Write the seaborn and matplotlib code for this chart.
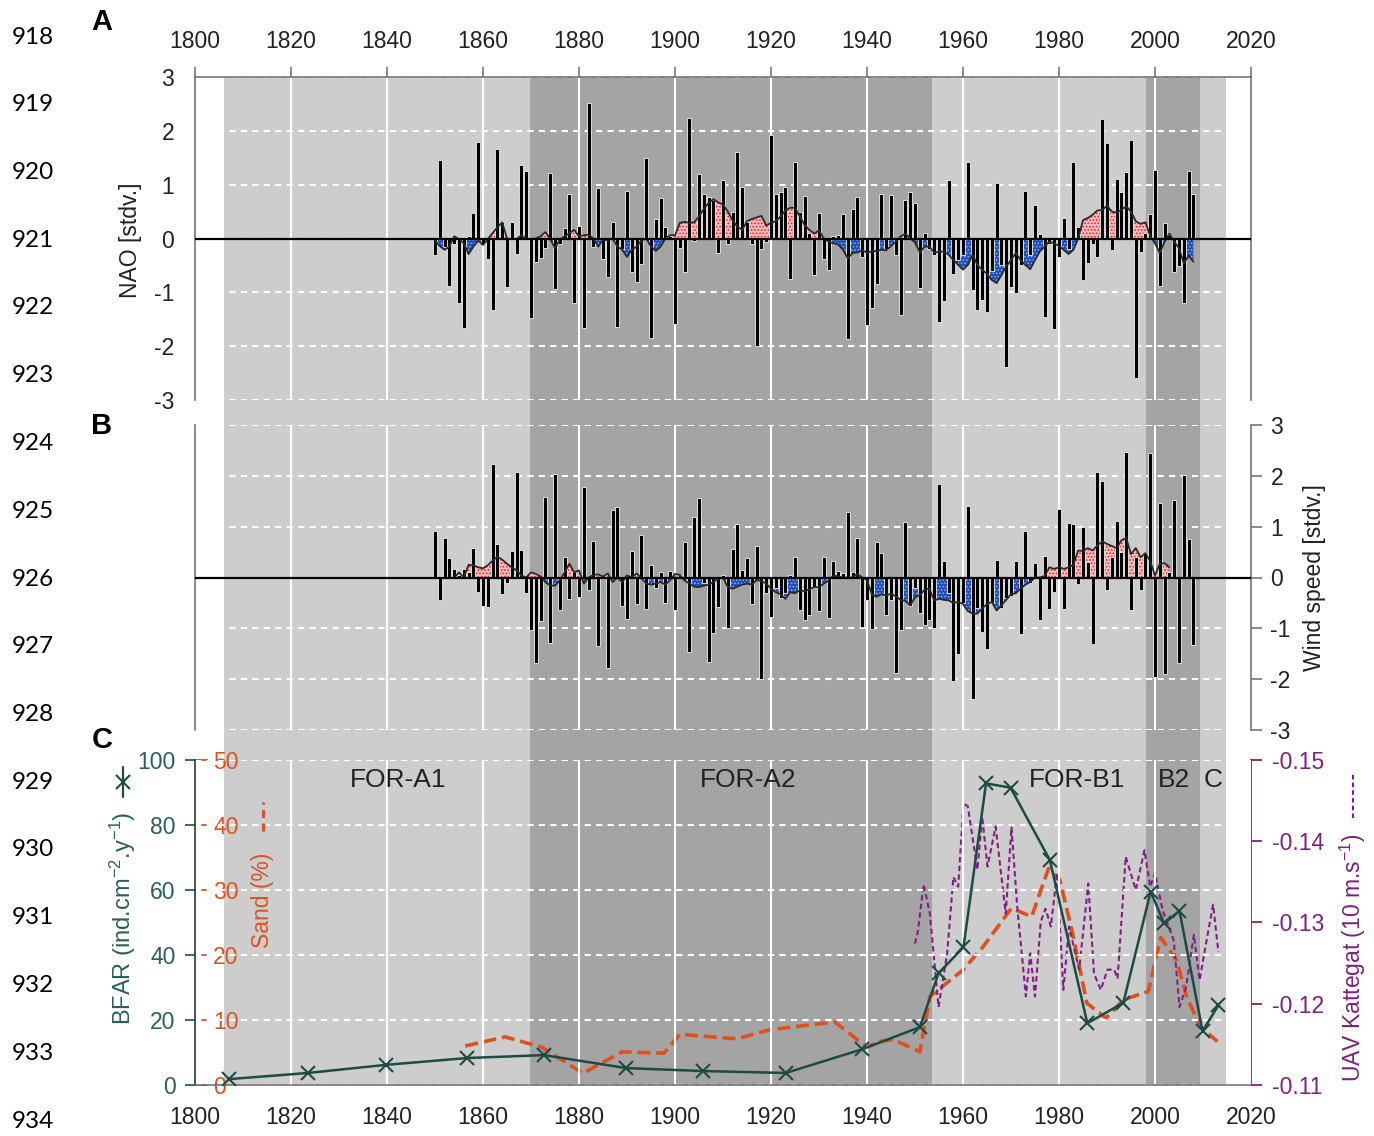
import matplotlib
matplotlib.use("Agg")
import matplotlib.pyplot as plt
from matplotlib.lines import Line2D
import numpy as np
import seaborn as sns

# ---------------- data ----------------
years = list(range(1850, 2009))
nao_values = [
    -0.30, 1.45, -0.15, -0.89, -0.10, -1.19, -1.66, 0.05, 0.48, 1.80,
    -0.10, -0.38, -1.33, 1.66, 0.30, -0.90, 0.30, -0.29, 1.37, 1.25,
    -1.47, -0.43, -0.37, -0.18, 1.22, -0.93, -0.10, 0.19, 0.83, -1.19,
    0.24, -1.66, 2.51, -0.15, 0.93, -0.38, -0.72, 0.30, -1.64, -0.20,
    0.89, -0.62, -0.81, -0.47, 1.50, -1.85, 0.37, 0.75, 0.22, 0.05,
    -1.59, -0.18, -0.63, 2.23, -0.04, 1.19, 0.83, 0.77, 0.72, -0.27,
    1.08, -0.10, 0.50, 1.60, 0.95, 0.30, -0.10, -1.99, -0.20, -0.06,
    1.93, 0.83, 0.86, 0.95, -0.76, 1.43, 0.50, 0.79, 0.10, -0.68,
    0.48, -0.38, -0.58, 0.05, 0.07, 0.46, -1.86, 0.55, 0.78, -0.35,
    -1.60, -1.30, -0.84, 0.83, -0.20, 0.80, -0.30, -1.43, 0.71, 0.87,
    0.66, -0.92, 0.11, -0.20, -0.30, -1.56, -1.17, 1.09, -0.66, -0.40,
    -0.30, 1.43, -0.96, -1.33, -1.14, -1.36, -0.60, 1.04, -0.50, -2.38,
    -0.91, -1.02, -0.50, 0.89, -0.30, 0.63, 0.09, -1.45, -0.10, -1.69,
    -0.35, 0.39, -0.20, 1.42, 0.22, -0.77, -0.45, -0.10, -0.34, 2.22,
    1.78, -0.22, 1.11, 0.87, 1.23, 1.83, -2.60, -0.25, 0.10, 0.46,
    1.28, -0.89, 0.29, 0.06, -0.62, -0.52, -1.19, 1.26, 0.83,
]
nao_smooth = [
    -0.04, -0.14, -0.21, -0.15, 0.04, -0.01, -0.09, -0.29, -0.15, -0.04,
    -0.12, -0.01, 0.10, 0.21, 0.30, 0.00, -0.01, -0.01, 0.06, 0.00,
    -0.01, 0.00, 0.04, 0.12, -0.01, -0.18, -0.02, 0.04, 0.10, 0.16,
    0.04, 0.06, 0.07, 0.00, -0.15, -0.02, -0.03, 0.00, -0.15, -0.21,
    -0.34, -0.21, -0.15, -0.04, 0.00, -0.15, -0.23, -0.15, 0.00, 0.06,
    0.06, 0.29, 0.31, 0.29, 0.30, 0.41, 0.55, 0.66, 0.73, 0.67,
    0.63, 0.50, 0.34, 0.22, 0.16, 0.32, 0.36, 0.39, 0.42, 0.24,
    0.29, 0.32, 0.41, 0.52, 0.57, 0.57, 0.41, 0.25, 0.16, 0.09,
    0.15, 0.00, -0.06, -0.09, -0.11, -0.21, -0.37, -0.27, -0.26, -0.22,
    -0.26, -0.24, -0.23, -0.21, -0.22, -0.14, -0.06, 0.04, 0.09, 0.00,
    -0.07, -0.26, -0.15, -0.15, -0.26, -0.25, -0.24, -0.30, -0.40, -0.49,
    -0.58, -0.49, -0.30, -0.49, -0.58, -0.66, -0.77, -0.83, -0.68, -0.52,
    -0.40, -0.27, -0.40, -0.49, -0.57, -0.40, -0.24, -0.15, -0.06, -0.09,
    -0.14, -0.21, -0.29, -0.21, 0.00, 0.34, 0.38, 0.44, 0.52, 0.53,
    0.61, 0.50, 0.48, 0.53, 0.60, 0.50, 0.32, 0.27, 0.30, 0.05,
    -0.09, -0.27, -0.06, 0.09, -0.06, -0.18, -0.46, -0.32, -0.43,
]
wind_values = [
    0.92, -0.44, 0.78, 0.39, 0.16, 0.05, 0.17, 0.10, 0.58, -0.29,
    -0.56, -0.58, 2.23, 0.66, -0.33, -0.10, 0.53, 2.07, 0.55, -0.31,
    -1.03, -1.68, -0.86, 1.59, -1.28, 2.03, -0.63, 0.40, -0.42, 0.10,
    -0.39, 1.79, -0.25, 0.71, -1.34, 0.05, -1.78, 1.33, 1.39, -0.56,
    -0.82, 0.52, -0.53, 0.84, -0.61, 0.25, -0.20, 0.10, -0.50, 0.12,
    -0.63, 0.05, 0.70, -1.47, 1.20, 1.56, -0.10, -1.67, -1.09, -0.59,
    0.05, -0.99, 0.56, 1.05, 0.15, 0.39, -0.52, 0.61, -2.00, -0.30,
    -0.78, -0.20, -0.40, -0.30, 0.05, 0.40, -0.63, -0.83, -0.73, -0.20,
    -0.65, 0.41, -0.79, 0.32, 0.12, 0.08, 1.28, 0.10, 0.77, -0.97,
    -0.44, -1.02, 0.69, 0.48, -0.73, -0.45, -1.88, -1.04, 1.10, -0.56,
    -0.20, -0.70, -0.94, -0.84, -1.00, 1.84, 0.32, -0.30, -2.03, -1.51,
    -0.50, 1.41, -2.39, -0.60, -1.08, -1.40, -0.50, 0.35, -0.60, -0.40,
    -0.37, 0.33, -1.12, 0.91, -0.10, 0.29, -0.83, 0.43, -0.62, -0.29,
    1.35, -0.62, 1.07, 1.05, -0.12, 0.99, 0.30, -1.30, 2.08, 1.89,
    -0.24, 0.40, 1.12, 0.50, 2.46, -0.63, 0.40, -0.24, 0.48, 2.44,
    -1.95, 1.46, -1.89, 0.10, 1.52, -1.69, 2.02, 0.76, -1.33,
]
wind_smooth_years = list(range(1854, 2004))
wind_smooth = [
    0.00, 0.10, 0.00, 0.25, 0.24, 0.20,
    0.18, 0.24, 0.33, 0.41, 0.35, 0.27, 0.20, 0.14, 0.04, 0.00,
    0.10, 0.07, 0.02, -0.09, -0.16, -0.16, -0.06, 0.10, 0.27, 0.10,
    0.14, -0.12, 0.00, 0.05, 0.06, 0.02, 0.08, -0.09, 0.00, -0.09,
    0.04, 0.00, 0.08, -0.01, -0.12, -0.14, -0.12, -0.09, -0.14, -0.05,
    0.07, 0.05, -0.06, -0.12, -0.18, -0.19, -0.16, -0.14, -0.09, -0.03,
    0.00, -0.19, -0.22, -0.18, -0.14, -0.12, -0.14, -0.05, -0.07, -0.12,
    -0.22, -0.29, -0.33, -0.42, -0.29, -0.31, -0.25, -0.27, -0.23, -0.19,
    -0.19, -0.12, -0.06, 0.04, 0.02, 0.00, 0.00, 0.00, 0.07, 0.00,
    -0.05, -0.33, -0.38, -0.33, -0.35, -0.32, -0.37, -0.44, -0.46, -0.55,
    -0.39, -0.35, -0.24, -0.22, -0.45, -0.42, -0.44, -0.45, -0.50, -0.48,
    -0.52, -0.66, -0.71, -0.71, -0.61, -0.52, -0.48, -0.65, -0.55, -0.44,
    -0.33, -0.31, -0.22, -0.14, -0.09, 0.00, 0.00, 0.03, 0.20, 0.17,
    0.20, 0.17, 0.20, 0.25, 0.53, 0.52, 0.58, 0.53, 0.63, 0.71,
    0.66, 0.62, 0.58, 0.73, 0.78, 0.46, 0.58, 0.40, 0.48, 0.32,
    0.04, 0.27, 0.28, 0.20,
]

bfar_years = [1807, 1823.5, 1839.8, 1856.7, 1872.7, 1889.8, 1905.8, 1923.1, 1939,
              1951, 1954.9, 1960.1, 1964.8, 1969.9, 1978.1, 1985.9, 1993.4,
              1999.1, 2001.9, 2005.1, 2009.9, 2013.2]
bfar_values = [1.8, 3.7, 6.2, 8.3, 9.2, 5.2, 4.3, 3.7, 11.0,
               17.8, 34.4, 42.4, 92.8, 91.5, 69.2, 19.0, 25.3,
               59.5, 49.7, 53.6, 16.6, 24.5]

sand_years = [1856.3, 1864.6, 1872.3, 1880.8, 1889.0, 1897.7, 1901.0, 1912.9, 1919.8,
              1933.3, 1940.0, 1942.7, 1945.5, 1951.0, 1953.1, 1960.0, 1964.2,
              1970.1, 1974.3, 1977.8, 1980.2, 1983.0, 1985.8, 1989.8, 1993.4,
              1998.6, 2001.2, 2004.5, 2006.6, 2009.4, 2013.0]
sand_values = [6.0, 7.4, 5.8, 1.8, 5.1, 4.9, 7.8, 7.1, 8.5,
               9.7, 5.8, 6.7, 7.0, 5.1, 13.6, 17.7, 21.3,
               27.2, 25.9, 33.3, 31.5, 22.8, 12.6, 10.3, 13.1,
               14.4, 22.7, 19.2, 13.6, 9.0, 6.7]

uav_years = [1950.0, 1950.6, 1951.8, 1953.1, 1954.9, 1956.7, 1958.0, 1959.0, 1960.1,
             1961.0, 1963.0, 1964.0, 1965.1, 1966.8, 1968.9, 1970.1, 1971.3,
             1973.1, 1974.0, 1975.0, 1976.2, 1977.2, 1978.3, 1979.6, 1980.9,
             1982.1, 1984.2, 1986.1, 1987.3, 1988.7, 1990.1, 1991.5, 1992.2,
             1993.9, 1996.0, 1997.8, 1999.0, 2000.0, 2001.6, 2003.9, 2005.1,
             2006.5, 2008.1, 2009.3, 2010.5, 2012.1, 2013.2]
uav_values = [-0.1274, -0.1289, -0.1347, -0.1311, -0.1196, -0.1262, -0.1356, -0.1344, -0.1447,
              -0.1443, -0.1365, -0.1430, -0.1369, -0.1418, -0.1311, -0.1417, -0.1319,
              -0.1209, -0.1262, -0.1209, -0.1301, -0.1317, -0.1295, -0.1361, -0.1217,
              -0.1295, -0.1242, -0.1348, -0.1237, -0.1217, -0.1242, -0.1242, -0.1231,
              -0.1381, -0.1340, -0.1389, -0.1344, -0.1361, -0.1315, -0.1278, -0.1196,
              -0.1221, -0.1285, -0.1229, -0.1270, -0.1322, -0.1264]

zone_light = (1806.0, 2014.8)
zones_dark = [(1869.8, 1953.6), (1998.1, 2009.4)]
zone_names = ["FOR-A1", "FOR-A2", "FOR-B1", "B2", "C"]
zone_name_x = [1842.3, 1915.2, 1983.75, 2004.0, 2012.1]

x_ticks = list(range(1800, 2021, 20))
std_ticks = [-3, -2, -1, 0, 1, 2, 3]
bfar_ticks = [0, 20, 40, 60, 80, 100]
sand_ticks = [0, 10, 20, 30, 40, 50]
uav_ticks = [-0.15, -0.14, -0.13, -0.12, -0.11]
uav_tick_labels = ["-0.15", "-0.14", "-0.13", "-0.12", "-0.11"]
line_numbers = [str(n) for n in range(918, 935)]

# ---------------- style ----------------
sns.set_style("white")
plt.rcParams["font.family"] = ["Liberation Sans", "DejaVu Sans"]
plt.rcParams["axes.unicode_minus"] = False
plt.rcParams["mathtext.fontset"] = "custom"
plt.rcParams["mathtext.rm"] = "Liberation Sans"
plt.rcParams["mathtext.it"] = "Liberation Sans:italic"
plt.rcParams["mathtext.bf"] = "Liberation Sans:bold"
plt.rcParams["hatch.linewidth"] = 0.8

TEAL = "#2b5f59"
TEAL_LINE = "#1c4a45"
ORANGE = "#dc5220"
PURPLE = "#7e217e"
SPINE = "#6a6a6a"
TXT = "#222222"
FS = 16.5

W, H = 1374, 1136
fig = plt.figure(figsize=(W / 100, H / 100), dpi=100)
fig.patch.set_facecolor("white")


def rect(x0, y0, x1, y1):
    return [x0 / W, 1 - y1 / H, (x1 - x0) / W, (y1 - y0) / H]


def fx(px):
    return px / W


def fy(py):
    return 1 - py / H


# background shading spanning all panels
bg = fig.add_axes(rect(195, 77, 1251, 1085))
bg.set_xlim(x_ticks[0], x_ticks[-1])
bg.set_ylim(0, 1)
bg.axis("off")
bg.axvspan(*zone_light, color="#cdcdcd", lw=0)
for a, b in zones_dark:
    bg.axvspan(a, b, color="#a4a4a4", lw=0)


def style_panel(ax):
    ax.set_xlim(x_ticks[0], x_ticks[-1])
    ax.patch.set_visible(False)
    ax.set_xticks(x_ticks)
    ax.grid(True, axis="x", color="white", lw=1.5, ls="-")
    ax.grid(True, axis="y", color="white", lw=1.5, ls=(0, (3, 2.5)))
    ax.set_axisbelow(True)
    for s in ax.spines.values():
        s.set_color(SPINE)
        s.set_linewidth(1.1)


def draw_index(ax, vals, sm_years, sm):
    sm_years = np.asarray(sm_years, float)
    sm = np.asarray(sm, float)
    ax.fill_between(sm_years, sm, 0, where=sm >= 0, interpolate=True,
                    facecolor="#ffbdbd", edgecolor="#e42424", hatch=".....",
                    linewidth=0, zorder=2)
    ax.fill_between(sm_years, sm, 0, where=sm <= 0, interpolate=True,
                    facecolor="#1b4cb8", edgecolor="#8faaf0", hatch=".....",
                    linewidth=0, zorder=2)
    sns.barplot(x=years, y=vals, native_scale=True, orient="x", color="black",
                saturation=1, width=0.84, edgecolor="#dcdcdc", linewidth=0.7,
                errorbar=None, ax=ax, zorder=3)
    sns.lineplot(x=sm_years, y=sm, ax=ax, color="#2a2a2a", lw=1.3, zorder=4)
    ax.axhline(0, color="black", lw=1.6, zorder=5)
    ax.set_xlim(x_ticks[0], x_ticks[-1])
    ax.set_ylim(-3, 3)
    ax.set_yticks(std_ticks)
    ax.set_xlabel("")
    ax.set_ylabel("")


# ---------------- panel A ----------------
axA = fig.add_axes(rect(195, 77, 1251, 400))
style_panel(axA)
draw_index(axA, nao_values, years, nao_smooth)
axA.set_xticks(x_ticks)
axA.xaxis.tick_top()
axA.spines["bottom"].set_visible(False)
axA.tick_params(axis="x", direction="out", length=7, width=1.1, color=SPINE,
                pad=10.5, labelsize=FS, labelcolor=TXT)
axA.tick_params(axis="y", direction="out", length=6, width=1.1, color=SPINE,
                pad=9, labelsize=FS, labelcolor=TXT)

# ---------------- panel B ----------------
axB = fig.add_axes(rect(195, 425, 1251, 730))
style_panel(axB)
draw_index(axB, wind_values, wind_smooth_years, wind_smooth)
axB.set_xticks(x_ticks)
axB.yaxis.tick_right()
axB.spines["top"].set_visible(False)
axB.spines["bottom"].set_visible(False)
axB.tick_params(axis="x", length=0, labelbottom=False, labeltop=False)
axB.tick_params(axis="y", direction="out", length=8, width=1.1, color=SPINE,
                pad=6, labelsize=FS, labelcolor=TXT)

# ---------------- panel C ----------------
axC = fig.add_axes(rect(195, 760, 1251, 1085))
style_panel(axC)
axC.set_ylim(0, 100)
axC.set_yticks(bfar_ticks)
axC.spines["top"].set_visible(False)
axC.spines["right"].set_visible(False)
axC.spines["left"].set_color("#222222")
axC.tick_params(axis="y", direction="out", length=7, width=1.3, color=TEAL,
                pad=7, labelsize=FS, labelcolor=TEAL)
axC.tick_params(axis="x", direction="out", length=7, width=1.1, color=SPINE,
                pad=8, labelsize=FS, labelcolor=TXT)

axS = axC.twinx()
axS.set_ylim(0, 50)
axS.spines["right"].set_position(("axes", 0.0))
for s in axS.spines.values():
    s.set_visible(False)
axS.set_yticks(sand_ticks)
axS.tick_params(axis="y", direction="out", length=9, width=1.3, color=ORANGE,
                pad=4, labelsize=FS, labelcolor=ORANGE)

axU = axC.twinx()
axU.set_ylim(-0.11, -0.15)
for s in ["top", "bottom", "left"]:
    axU.spines[s].set_visible(False)
axU.spines["right"].set_color(PURPLE)
axU.spines["right"].set_linewidth(1.3)
axU.set_yticks(uav_ticks)
axU.set_yticklabels(uav_tick_labels)
axU.tick_params(axis="y", direction="out", length=8, width=1.3, color=PURPLE,
                pad=7, labelsize=FS, labelcolor=PURPLE)

sns.lineplot(x=uav_years, y=uav_values, ax=axU, color="#861c86", lw=1.5,
             linestyle=(0, (2.6, 1.6)), zorder=3)
sns.lineplot(x=sand_years, y=sand_values, ax=axS, color="#e0501c", lw=2.6,
             linestyle=(0, (3.6, 1.6)), zorder=4)
sns.lineplot(x=bfar_years, y=bfar_values, ax=axC,
             color=TEAL_LINE, lw=1.8, marker="x", markersize=10,
             markeredgewidth=1.5, markeredgecolor=TEAL_LINE, zorder=6)
for ax in (axC, axS, axU):
    ax.set_xlim(x_ticks[0], x_ticks[-1])
    ax.set_xlabel("")
    ax.set_ylabel("")
axC.set_ylim(0, 100)
axS.set_ylim(0, 50)
axU.set_ylim(-0.11, -0.15)
axC.set_zorder(axU.get_zorder() + 1)
axC.patch.set_visible(False)

for name, xz in zip(zone_names, zone_name_x):
    axC.text(xz, 93.8, name, ha="center", va="center", fontsize=19, color=TXT)

# ---------------- axis labels and symbols ----------------
fig.text(fx(131), fy(240), "NAO [stdv.]", rotation=90, ha="center", va="center",
         fontsize=FS, color=TXT)
fig.text(fx(1315), fy(578), "Wind speed [stdv.]", rotation=90, ha="center",
         va="center", fontsize=FS, color=TXT)
fig.text(fx(123), fy(918), "BFAR (ind.cm$^{-2}$.y$^{-1}$)", rotation=90,
         ha="center", va="center", fontsize=17, color=TEAL)
fig.text(fx(263), fy(900), "Sand (%)", rotation=90, ha="center", va="center",
         fontsize=FS, color=ORANGE)
fig.text(fx(1353), fy(958), "UAV Kattegat (10 m.s$^{-1}$)", rotation=90,
         ha="center", va="center", fontsize=FS, color=PURPLE)

fig.add_artist(Line2D([fx(123), fx(123)], [fy(797), fy(767)], transform=fig.transFigure,
                      color=TEAL_LINE, lw=1.6))
fig.add_artist(Line2D([fx(123)], [fy(782)], transform=fig.transFigure, color=TEAL_LINE,
                      marker="x", markersize=10, markeredgewidth=1.5, lw=0))
fig.add_artist(Line2D([fx(263), fx(263)], [fy(831), fy(802)], transform=fig.transFigure,
                      color="#e0501c", lw=2.2, linestyle=(0, (2.6, 1.8))))
fig.add_artist(Line2D([fx(1353), fx(1353)], [fy(818), fy(772)], transform=fig.transFigure,
                      color="#861c86", lw=1.5, linestyle=(0, (2.2, 1.5))))

# panel letters
for letter, py in zip(["A", "B", "C"], [22, 426, 740]):
    fig.text(fx(102), fy(py), letter, ha="center", va="center", fontsize=21,
             fontweight="bold", color="black")

# manuscript line numbers
for i, lab in enumerate(line_numbers):
    fig.text(fx(33), fy(37 + 67.75 * i), lab, ha="center", va="center",
             fontsize=17.5, color="black", family=["Lato", "DejaVu Sans"])

fig.savefig("out.png", dpi=100, facecolor="white")
